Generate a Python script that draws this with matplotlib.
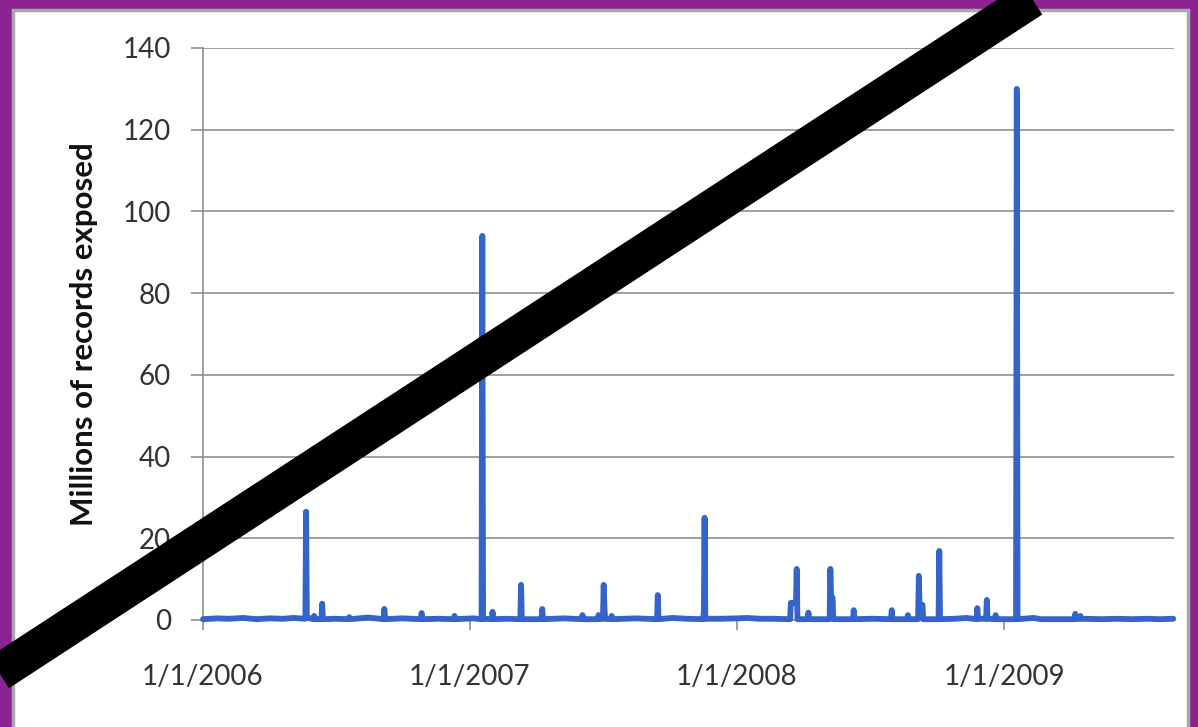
import matplotlib
matplotlib.use("Agg")
import matplotlib.pyplot as plt
from matplotlib.patches import Rectangle
from matplotlib.lines import Line2D
import datetime as dt

# ---- data (millions of records exposed, by breach date) ----
breach_dates = [
    "2006-01-01", "2006-01-20", "2006-02-05", "2006-02-25", "2006-03-15", "2006-04-02",
    "2006-04-20", "2006-05-05", "2006-05-20", "2006-05-21", "2006-05-22", "2006-05-23",
    "2006-06-01", "2006-06-02", "2006-06-03", "2006-06-12", "2006-06-13", "2006-06-14",
    "2006-07-01", "2006-07-19", "2006-07-20", "2006-07-21", "2006-08-15", "2006-09-05",
    "2006-09-06", "2006-09-07", "2006-10-01", "2006-10-26", "2006-10-27", "2006-10-28",
    "2006-11-20", "2006-12-10", "2006-12-11", "2006-12-12", "2007-01-05", "2007-01-17",
    "2007-01-18", "2007-01-19", "2007-01-31", "2007-02-01", "2007-02-02", "2007-02-20",
    "2007-03-11", "2007-03-12", "2007-03-13", "2007-04-09", "2007-04-10", "2007-04-11",
    "2007-05-10", "2007-06-03", "2007-06-04", "2007-06-05", "2007-06-25", "2007-06-26",
    "2007-06-27", "2007-07-02", "2007-07-03", "2007-07-04", "2007-07-05", "2007-07-13",
    "2007-07-14", "2007-07-15", "2007-08-15", "2007-09-14", "2007-09-15", "2007-09-16",
    "2007-10-05", "2007-10-25", "2007-11-16", "2007-11-17", "2007-11-18", "2007-11-19",
    "2007-12-10", "2008-01-02", "2008-01-15", "2008-02-01", "2008-02-20", "2008-03-14",
    "2008-03-15", "2008-03-22", "2008-03-23", "2008-03-24", "2008-04-07", "2008-04-08",
    "2008-04-09", "2008-05-07", "2008-05-08", "2008-05-09", "2008-05-11", "2008-05-12",
    "2008-06-08", "2008-06-09", "2008-06-10", "2008-07-05", "2008-07-30", "2008-07-31",
    "2008-08-01", "2008-08-21", "2008-08-22", "2008-08-23", "2008-09-05", "2008-09-06",
    "2008-09-07", "2008-09-11", "2008-09-12", "2008-10-03", "2008-10-04", "2008-10-05",
    "2008-10-25", "2008-11-10", "2008-11-24", "2008-11-25", "2008-11-26", "2008-12-07",
    "2008-12-08", "2008-12-09", "2008-12-19", "2008-12-20", "2008-12-21", "2009-01-17",
    "2009-01-18", "2009-01-19", "2009-02-10", "2009-02-20", "2009-03-15", "2009-04-07",
    "2009-04-08", "2009-04-09", "2009-04-14", "2009-04-15", "2009-04-16", "2009-05-15",
    "2009-06-05", "2009-06-25", "2009-07-15", "2009-08-01", "2009-08-20",
]
records_millions = [
    0.2, 0.4, 0.3, 0.5, 0.2, 0.4,
    0.3, 0.5, 0.3, 0.3, 26.5, 0.6,
    0.2, 1.0, 0.2, 0.2, 4.0, 0.2,
    0.3, 0.2, 0.7, 0.2, 0.6, 0.2,
    2.7, 0.2, 0.4, 0.2, 1.7, 0.2,
    0.3, 0.2, 1.0, 0.2, 0.4, 0.2,
    94.0, 0.3, 0.2, 2.0, 0.2, 0.3,
    0.2, 8.6, 0.2, 0.2, 2.7, 0.2,
    0.4, 0.2, 1.2, 0.2, 0.2, 1.2,
    0.2, 0.3, 8.6, 3.0, 0.3, 0.2,
    1.0, 0.2, 0.4, 0.2, 6.1, 0.2,
    0.5, 0.3, 0.2, 2.0, 25.0, 0.3,
    0.3, 0.4, 0.5, 0.3, 0.3, 0.2,
    4.2, 4.2, 12.5, 0.2, 0.2, 1.8,
    0.2, 0.2, 12.5, 5.5, 5.5, 0.2,
    0.2, 2.4, 0.2, 0.3, 0.2, 2.4,
    0.2, 0.2, 1.2, 0.2, 0.2, 10.8,
    3.7, 3.7, 0.2, 0.2, 16.9, 0.2,
    0.3, 0.5, 0.2, 2.9, 0.3, 0.3,
    4.9, 0.3, 0.2, 1.2, 0.2, 0.2,
    130.0, 0.2, 0.5, 0.2, 0.2, 0.2,
    1.5, 0.3, 0.3, 1.0, 0.3, 0.2,
    0.3, 0.2, 0.3, 0.2, 0.3,
]
x_tick_labels = ["1/1/2006", "1/1/2007", "1/1/2008", "1/1/2009"]
y_ticks = [0, 20, 40, 60, 80, 100, 120, 140]
y_label = "Millions of records exposed"

dates = [dt.datetime.strptime(d, "%Y-%m-%d") for d in breach_dates]
tick_dates = [dt.datetime.strptime(s, "%m/%d/%Y") for s in x_tick_labels]

W, H = 1198, 727
fig = plt.figure(figsize=(W / 100, H / 100), dpi=100)
fig.patch.set_facecolor("#8B2390")

# white panel with grey border
fig.add_artist(Rectangle((13 / W, -0.05), (1188 - 13) / W, 1.05 - 10 / H,
                         transform=fig.transFigure, facecolor="white",
                         edgecolor="#A8A8A8", linewidth=2.5, zorder=0))

ax = fig.add_axes([203 / W, 1 - 620 / H, (1174 - 203) / W, (620 - 48) / H])
ax.set_facecolor("none")
ax.plot(dates, records_millions, color="#3463C9", linewidth=4.2,
        solid_joinstyle="round", solid_capstyle="round", zorder=3, clip_on=False)

ax.set_ylim(0, 140)
ax.set_xlim(dt.datetime(2006, 1, 1), dt.datetime(2009, 8, 21))
ax.set_yticks(y_ticks)
ax.set_xticks(tick_dates)
ax.set_xticklabels(x_tick_labels)

grid_c = "#8F8F8F"
ax.yaxis.grid(True, color=grid_c, linewidth=1.2)
ax.xaxis.grid(False)
ax.set_axisbelow(True)
for s in ["top", "right"]:
    ax.spines[s].set_visible(False)
ax.spines["left"].set_color(grid_c)
ax.spines["left"].set_linewidth(1.2)
ax.spines["bottom"].set_color(grid_c)
ax.spines["bottom"].set_linewidth(1.2)

font = ["Lato", "DejaVu Sans"]
ax.tick_params(axis="y", length=9, width=1.2, color=grid_c, pad=14,
               labelsize=20, labelcolor="#333333")
ax.tick_params(axis="x", length=7, width=1.2, color=grid_c, pad=25,
               labelsize=20, labelcolor="#333333")
for lab in ax.get_xticklabels() + ax.get_yticklabels():
    lab.set_family(font)

ax.set_ylabel(y_label, fontsize=22.5, fontweight="bold", color="#111111",
              family=font, labelpad=18)

# black strike-through diagonal across the whole picture
def to_fig(px, py):
    return px / W, 1 - py / H

x0, y0 = to_fig(-60, 672 + 0.652 * 60)
x1, y1 = to_fig(1250, 672 - 0.652 * 1250)
fig.add_artist(Line2D([x0, x1], [y0, y1], transform=fig.transFigure,
                      color="black", linewidth=37 * 72 / 100,
                      solid_capstyle="butt", zorder=10))

fig.savefig("out.png", dpi=100, facecolor=fig.get_facecolor())
